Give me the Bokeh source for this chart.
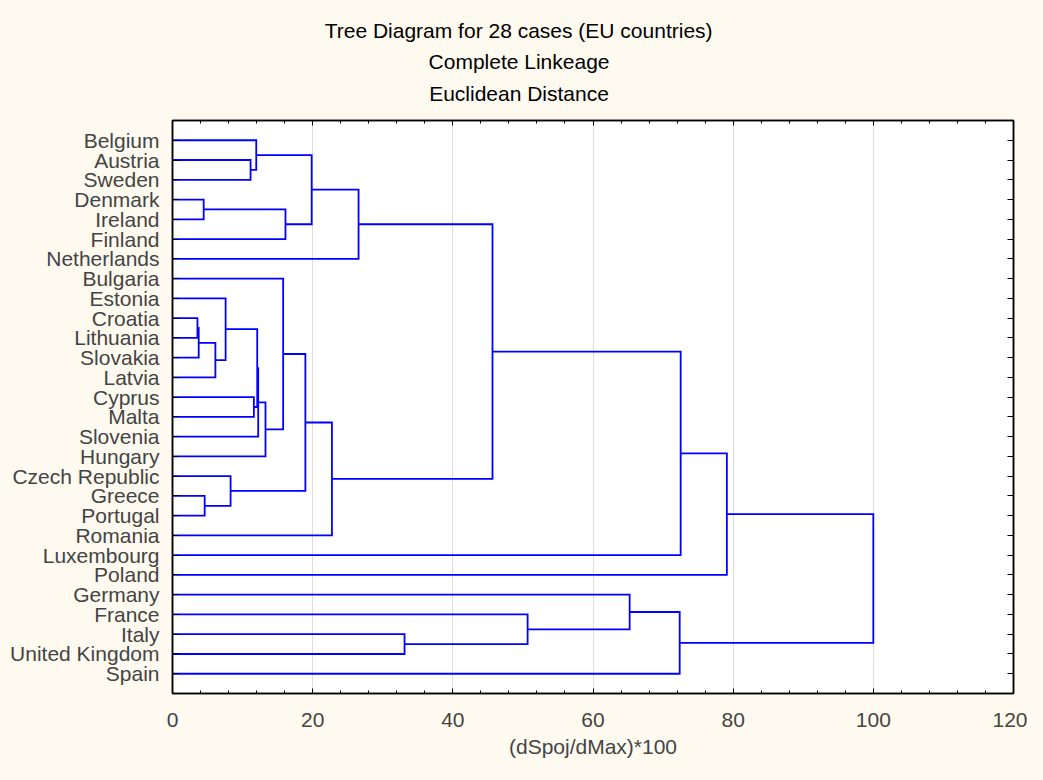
from bokeh.plotting import figure
from bokeh.models import (Range1d, FixedTicker, SingleIntervalTicker, LinearAxis,
                          Title, ColumnDataSource)
from bokeh.embed import file_html
from bokeh.resources import INLINE

# ---------------- data ----------------
countries = ["Belgium", "Austria", "Sweden", "Denmark", "Ireland", "Finland",
             "Netherlands", "Bulgaria", "Estonia", "Croatia", "Lithuania",
             "Slovakia", "Latvia", "Cyprus", "Malta", "Slovenia", "Hungary",
             "Czech Republic", "Greece", "Portugal", "Romania", "Luxembourg",
             "Poland", "Germany", "France", "Italy", "United Kingdom", "Spain"]

# linkage: each merge joins cluster A and cluster B (a country name or the
# index of an earlier merge) at the given linkage distance (dSpoj/dMax)*100
merge_a = ["Croatia", 0, "Denmark", "Greece", 1, "Estonia", "Czech Republic",
           "Austria", "Cyprus", "Belgium", 5, 10, 11, "Bulgaria", 2, 13, 9, 15,
           16, "Italy", 18, "France", "Germany", 22, 20, 24, 25]
merge_b = ["Lithuania", "Slovakia", "Ireland", "Portugal", "Latvia", 4, 3,
           "Sweden", "Malta", 7, 8, "Slovenia", "Hungary", 12, "Finland", 6, 14,
           "Romania", "Netherlands", "United Kingdom", 17, 19, 21, "Spain",
           "Luxembourg", "Poland", 23]
merge_dist = [3.56, 3.74, 4.45, 4.59, 6.12, 7.58, 8.29, 11.14, 11.61, 11.95,
              12.09, 12.23, 13.27, 15.79, 16.12, 18.96, 19.86, 22.75, 26.55,
              33.11, 45.66, 50.67, 65.23, 72.37, 72.51, 79.10, 100.0]

x_ticks = [0, 20, 40, 60, 80, 100, 120]
x_label = "(dSpoj/dMax)*100"
title_lines = ["Tree Diagram for 28 cases (EU countries)",
               "Complete Linkeage", "Euclidean Distance"]

# ---------------- build dendrogram paths ----------------
n = len(countries)
leaf_y = {c: n - 1 - i for i, c in enumerate(countries)}


def node(ref, nodes):
    if isinstance(ref, str):
        return (0.0, float(leaf_y[ref]))
    return nodes[ref]


nodes = []
xs, ys = [], []
for a, b, d in zip(merge_a, merge_b, merge_dist):
    xa, ya = node(a, nodes)
    xb, yb = node(b, nodes)
    xs.append([xa, d, d, xb])
    ys.append([ya, ya, yb, yb])
    nodes.append((d, (ya + yb) / 2.0))

src = ColumnDataSource(data=dict(xs=xs, ys=ys))

FONT = "Liberation Sans"
FS = "21px"
BG = "#FFFAF0"

p = figure(width=1027, height=764, title=None,
           x_range=Range1d(0, 120), y_range=Range1d(-1, n),
           output_backend="svg", toolbar_location=None,
           min_border_left=172, min_border_right=14,
           min_border_top=120, min_border_bottom=71,
           background_fill_color="white", border_fill_color=BG)
p.outline_line_color = "black"
p.outline_line_width = 1.5

p.multi_line(xs="xs", ys="ys", source=src, line_color="#0000FF",
             line_width=1.8, line_join="miter")

# bottom axis
xticker = SingleIntervalTicker(interval=20, num_minor_ticks=5)
xa = p.xaxis[0]
xa.ticker = xticker
xa.axis_label = x_label
xa.axis_label_text_font = FONT
xa.axis_label_text_font_size = FS
xa.axis_label_text_font_style = "normal"
xa.axis_label_standoff = 5
xa.major_label_text_font = FONT
xa.major_label_text_font_size = FS
xa.major_label_standoff = 19
xa.major_tick_in = 5
xa.major_tick_out = 0
xa.minor_tick_in = 3
xa.minor_tick_out = 0
xa.axis_line_color = "black"
xa.axis_line_width = 1.5

# left axis with country names
ya = p.yaxis[0]
ya.ticker = FixedTicker(ticks=[leaf_y[c] for c in countries], minor_ticks=[])
ya.major_label_overrides = {leaf_y[c]: c for c in countries}
ya.major_label_text_font = FONT
ya.major_label_text_font_size = FS
ya.major_label_standoff = 13
ya.major_tick_in = 6
ya.major_tick_out = 0
ya.axis_line_color = "black"
ya.axis_line_width = 1.5

# grid
p.xgrid.ticker = xticker
p.xgrid.grid_line_color = "#DCDCDC"
p.ygrid.visible = False

# mirrored axes (ticks only)
top = LinearAxis(ticker=xticker,
                 major_label_overrides={v: "" for v in x_ticks},
                 major_tick_in=5, major_tick_out=0,
                 minor_tick_in=3, minor_tick_out=0,
                 axis_line_color="black", axis_line_width=1.5,
                 major_label_standoff=0, major_label_text_font_size="1px")
p.add_layout(top, "above")

right = LinearAxis(ticker=FixedTicker(ticks=[leaf_y[c] for c in countries], minor_ticks=[]),
                   major_label_overrides={leaf_y[c]: "" for c in countries},
                   major_tick_in=6, major_tick_out=0,
                   axis_line_color="black", axis_line_width=1.5,
                   major_label_standoff=0, major_label_text_font_size="1px")
p.add_layout(right, "right")

# three title lines (added innermost first)
centre = 346.5
approx_w = [18.505 * 21, 8.615 * 21, 8.559 * 21]
standoffs = [29, -17, 31]
for i in [2, 1, 0]:
    p.add_layout(Title(text=title_lines[i], align="left",
                       offset=centre - approx_w[i] / 2.0,
                       text_font=FONT, text_font_size=FS,
                       text_font_style="normal", text_color="black",
                       standoff=standoffs[i]), "above")

html = file_html(p, INLINE, title="Tree Diagram")
html = html.replace("</head>",
                    "<style>html, body {background-color: %s;}</style></head>" % BG, 1)
open("out.html", "w").write(html)
